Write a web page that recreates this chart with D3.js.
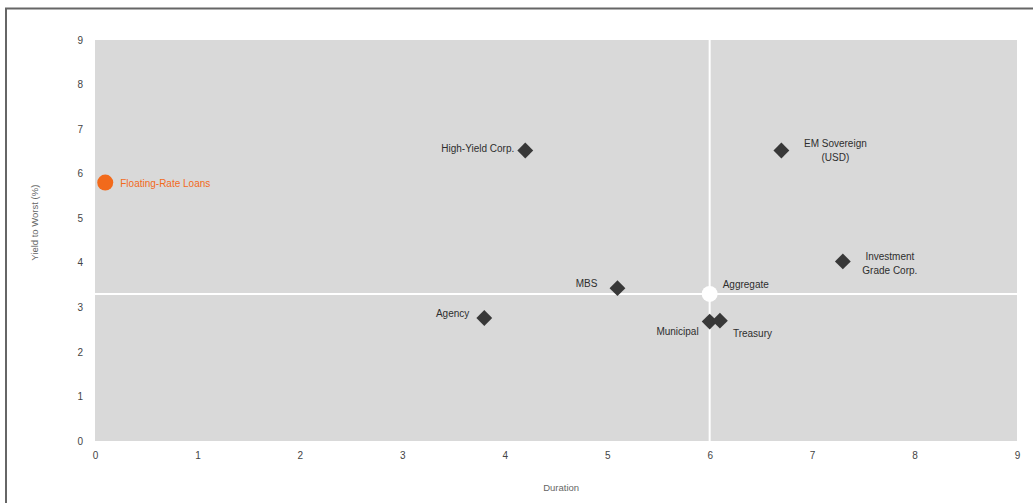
<!DOCTYPE html>
<html>
<head>
<meta charset="utf-8">
<script src="https://cdn.jsdelivr.net/npm/d3@7"></script>
<style>
  html, body { margin: 0; padding: 0; background: #fff; }
  #chart { width: 1033px; height: 503px; }
  text { font-family: "Liberation Sans", Arial, sans-serif; }
</style>
</head>
<body>
<div id="chart"></div>
<script>
(function () {
  // sectors plotted as diamonds
  const sectors = ["High-Yield Corp.", "EM Sovereign\n(USD)", "Investment\nGrade Corp.", "MBS", "Agency", "Municipal", "Treasury"];
  const sectorDuration = [4.2, 6.7, 7.3, 5.1, 3.8, 6.0, 6.1];
  const sectorYield = [6.52, 6.52, 4.03, 3.43, 2.76, 2.68, 2.7];

  // highlighted series
  const loanName = "Floating-Rate Loans";
  const loanDuration = [0.1];
  const loanYield = [5.8];

  const aggName = "Aggregate";
  const aggDuration = [6.0];
  const aggYield = [3.3];

  const xTicks = [0, 1, 2, 3, 4, 5, 6, 7, 8, 9];
  const yTicks = [0, 1, 2, 3, 4, 5, 6, 7, 8, 9];

  // label placement: [dx, dy, anchor]
  const labelPos = {
    "High-Yield Corp.": [-11, 2, "end"],
    "EM Sovereign\n(USD)": [54, -3, "middle"],
    "Investment\nGrade Corp.": [47, -1, "middle"],
    "MBS": [-20, -1, "end"],
    "Agency": [-15, -1, "end"],
    "Municipal": [-11, 13, "end"],
    "Treasury": [13, 16, "start"]
  };

  const width = 1033, height = 503;
  const margin = { top: 40, right: 16, bottom: 62, left: 95 };
  const innerW = width - margin.left - margin.right;
  const innerH = height - margin.top - margin.bottom;

  const svg = d3.select("#chart").append("svg")
    .attr("width", width)
    .attr("height", height);

  // frame lines
  svg.append("line")
    .attr("x1", 5).attr("x2", width).attr("y1", 8.5).attr("y2", 8.5)
    .attr("stroke", "#666").attr("stroke-width", 2);
  svg.append("line")
    .attr("x1", 6).attr("x2", 6).attr("y1", 8).attr("y2", height)
    .attr("stroke", "#666").attr("stroke-width", 2);

  const x = d3.scaleLinear().domain([0, 9]).range([0, innerW]);
  const y = d3.scaleLinear().domain([0, 9]).range([innerH, 0]);

  const g = svg.append("g").attr("transform", `translate(${margin.left},${margin.top})`);

  g.append("rect")
    .attr("width", innerW).attr("height", innerH)
    .attr("fill", "#d9d9d9");

  // crosshair through the aggregate
  g.append("line")
    .attr("x1", x(aggDuration[0])).attr("x2", x(aggDuration[0]))
    .attr("y1", 0).attr("y2", innerH)
    .attr("stroke", "#fff").attr("stroke-width", 2);
  g.append("line")
    .attr("x1", 0).attr("x2", innerW)
    .attr("y1", y(aggYield[0])).attr("y2", y(aggYield[0]))
    .attr("stroke", "#fff").attr("stroke-width", 2);

  const xAxis = g.append("g")
    .attr("transform", `translate(0,${innerH})`)
    .call(d3.axisBottom(x).tickValues(xTicks).tickSize(0).tickPadding(11));
  const yAxis = g.append("g")
    .call(d3.axisLeft(y).tickValues(yTicks).tickSize(0).tickPadding(12));
  [xAxis, yAxis].forEach(a => {
    a.select(".domain").remove();
    a.selectAll("text").attr("font-size", 10).attr("fill", "#444")
      .attr("font-family", "'Liberation Sans', Arial, sans-serif");
  });

  svg.append("text")
    .attr("x", margin.left + x(4.55)).attr("y", 491)
    .attr("text-anchor", "middle")
    .attr("font-size", 9.5).attr("fill", "#666")
    .text("Duration");

  svg.append("text")
    .attr("transform", `translate(38,${margin.top + y(4.9)}) rotate(-90)`)
    .attr("text-anchor", "middle")
    .attr("font-size", 9.5).attr("fill", "#666")
    .text("Yield to Worst (%)");

  const sectorData = sectors.map((name, i) => ({ name, dur: sectorDuration[i], yld: sectorYield[i] }));

  const diamond = d3.symbol().type(d3.symbolDiamond2).size(160);
  g.selectAll(".sector")
    .data(sectorData)
    .join("path")
    .attr("class", "sector")
    .attr("transform", d => `translate(${x(d.dur)},${y(d.yld)})`)
    .attr("d", diamond)
    .attr("fill", "#383838");

  const labels = g.selectAll(".sector-label")
    .data(sectorData)
    .join("text")
    .attr("class", "sector-label")
    .attr("x", d => x(d.dur) + labelPos[d.name][0])
    .attr("y", d => y(d.yld) + labelPos[d.name][1])
    .attr("text-anchor", d => labelPos[d.name][2])
    .attr("font-size", 10)
    .attr("fill", "#2e2e2e");
  labels.each(function (d) {
    const lines = d.name.split("\n");
    const px = x(d.dur) + labelPos[d.name][0];
    d3.select(this).selectAll("tspan")
      .data(lines)
      .join("tspan")
      .attr("x", px)
      .attr("dy", (l, i) => i === 0 ? 0 : 14)
      .text(l => l);
  });

  // floating-rate loans
  g.append("circle")
    .attr("cx", x(loanDuration[0])).attr("cy", y(loanYield[0]))
    .attr("r", 8).attr("fill", "#f26a1b");
  g.append("text")
    .attr("x", x(loanDuration[0]) + 15).attr("y", y(loanYield[0]) + 4)
    .attr("font-size", 10).attr("fill", "#f26a1b")
    .text(loanName);

  // aggregate
  g.append("circle")
    .attr("cx", x(aggDuration[0])).attr("cy", y(aggYield[0]))
    .attr("r", 8).attr("fill", "#fff");
  g.append("text")
    .attr("x", x(aggDuration[0]) + 13).attr("y", y(aggYield[0]) - 6)
    .attr("font-size", 10).attr("fill", "#2e2e2e")
    .text(aggName);
})();
</script>
</body>
</html>
